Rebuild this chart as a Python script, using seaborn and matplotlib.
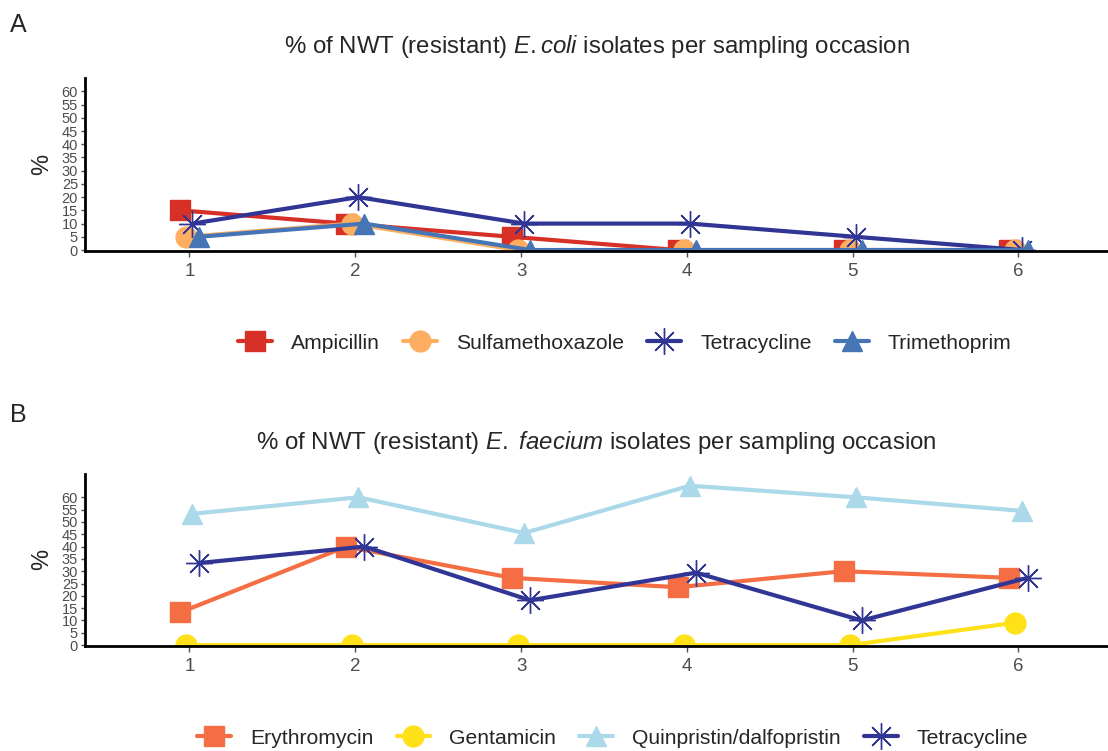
import pandas as pd
import matplotlib
matplotlib.use("Agg")
import matplotlib.pyplot as plt
from matplotlib.lines import Line2D
import seaborn as sns

occasions = ["1", "2", "3", "4", "5", "6"]

# panel A - E. coli
ecoli_drugs = ["Ampicillin", "Sulfamethoxazole", "Tetracycline", "Trimethoprim"]
ampicillin = [15, 10, 5, 0, 0, 0]
sulfamethoxazole = [5, 10, 0, 0, 0, 0]
tetracycline_ec = [10, 20, 10, 10, 5, 0]
trimethoprim = [5, 10, 0, 0, 0, 0]
ecoli_colors = ["#D73027", "#FDAE61", "#313695", "#4575B4"]
ecoli_markers = ["s", "o", (8, 2, 0), "^"]

# panel B - E. faecium
faecium_drugs = ["Erythromycin", "Gentamicin", "Quinpristin/dalfopristin", "Tetracycline"]
erythromycin = [13.3, 40, 27.3, 23.5, 30, 27.3]
gentamicin = [0, 0, 0, 0, 0, 9.1]
quinpristin = [53.3, 60, 45.5, 64.7, 60, 54.5]
tetracycline_ef = [33.3, 40, 18.2, 29.4, 10, 27.3]
faecium_colors = ["#F46D43", "#FFE119", "#ABD9E9", "#313695"]
faecium_markers = ["s", "o", "^", (8, 2, 0)]

sns.set_theme(style="white")
plt.rcParams["font.family"] = ["Liberation Sans", "DejaVu Sans"]
plt.rcParams["mathtext.fontset"] = "custom"
plt.rcParams["mathtext.rm"] = "Liberation Sans"
plt.rcParams["mathtext.it"] = "Liberation Sans:italic"

MS = 15
STAR_MS = 19


def long_frame(drugs, series):
    rows = []
    for drug, vals in zip(drugs, series):
        for occ, v in zip(occasions, vals):
            rows.append({"occasion": occ, "pct": v, "drug": drug})
    return pd.DataFrame(rows)


def fix_stars(ax):
    # asterisk markers drawn bigger and thinner, like ggplot shape 8
    for ln in ax.lines:
        if ln.get_marker() == (8, 2, 0):
            ln.set_markersize(STAR_MS)
            ln.set_markeredgewidth(1.0)


def panel(ax, df, drugs, colors, markers, title, ylim):
    sns.pointplot(data=df, x="occasion", y="pct", hue="drug", order=occasions,
                  hue_order=drugs, palette=colors, markers=markers,
                  linestyles="-", dodge=0.11, errorbar=None, ax=ax,
                  markersize=MS, linewidth=3.0, markeredgewidth=1.0,
                  legend=False)
    fix_stars(ax)
    ax.set_xlim(-0.63, 5.54)
    ax.set_ylim(*ylim)
    ax.set_yticks(range(0, 61, 5))
    ax.tick_params(axis="y", labelsize=10.5, colors="#4D4D4D", length=3,
                   width=1, left=True, pad=2)
    ax.tick_params(axis="x", labelsize=13.5, colors="#4D4D4D", length=4,
                   width=1, bottom=True, pad=5)
    for lab in ax.get_yticklabels() + ax.get_xticklabels():
        lab.set_color("#4D4D4D")
    ax.set_xlabel("")
    ax.set_ylabel("%", fontsize=17, labelpad=6)
    for side in ["top", "right"]:
        ax.spines[side].set_visible(False)
    for side in ["left", "bottom"]:
        ax.spines[side].set_color("black")
        ax.spines[side].set_linewidth(2)
    ax.set_title(title, fontsize=17.3, pad=18)


fig = plt.figure(figsize=(11.08, 7.51), dpi=100)
ax1 = fig.add_axes([0.0767, 0.666, 0.9233, 0.23])
ax2 = fig.add_axes([0.0767, 0.140, 0.9233, 0.229])

df_a = long_frame(ecoli_drugs, [ampicillin, sulfamethoxazole, tetracycline_ec, trimethoprim])
df_b = long_frame(faecium_drugs, [erythromycin, gentamicin, quinpristin, tetracycline_ef])

panel(ax1, df_a, ecoli_drugs, ecoli_colors, ecoli_markers,
      r"% of NWT (resistant) $\mathit{E{.}coli}$ isolates per sampling occasion", (-0.3, 65))
panel(ax2, df_b, faecium_drugs, faecium_colors, faecium_markers,
      r"% of NWT (resistant) $\mathit{E{.}}$ $\mathit{faecium}$ isolates per sampling occasion", (-0.3, 69.5))


def make_legend(drugs, colors, markers, y, x):
    handles = []
    for c, m in zip(colors, markers):
        star = m == (8, 2, 0)
        handles.append(Line2D([], [], color=c, marker=m,
                              markersize=STAR_MS if star else MS, linewidth=3.0,
                              markeredgewidth=1.0))
    fig.legend(handles, drugs, loc="center", bbox_to_anchor=(x, y), ncol=4,
               frameon=False, fontsize=15.2, handlelength=1.6,
               columnspacing=1.1, handletextpad=0.9)


make_legend(ecoli_drugs, ecoli_colors, ecoli_markers, 0.543, 0.564)
make_legend(faecium_drugs, faecium_colors, faecium_markers, 0.017, 0.553)

fig.text(0.009, 0.967, "A", fontsize=18, va="center")
fig.text(0.009, 0.447, "B", fontsize=18, va="center")

fig.savefig("out.png", dpi=100)
